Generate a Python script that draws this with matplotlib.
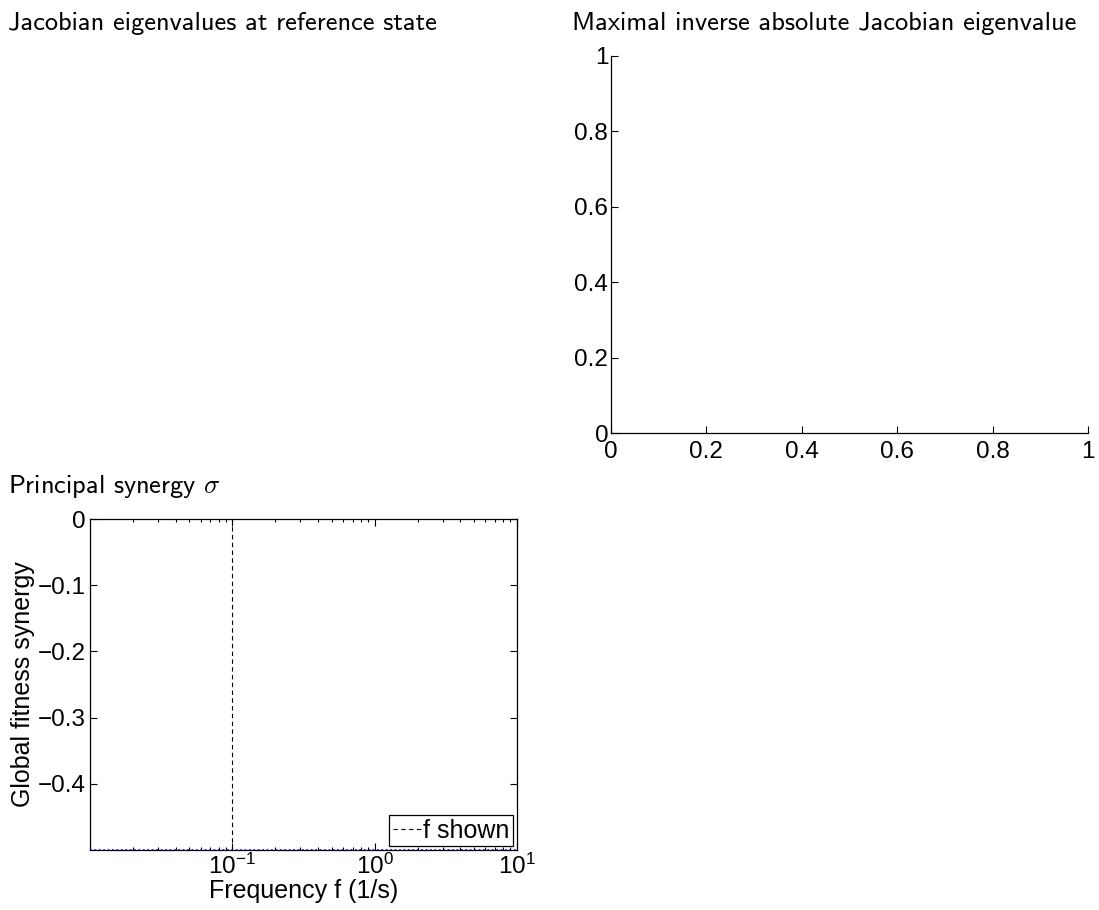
import numpy as np
import matplotlib
matplotlib.use('Agg')
import matplotlib.pyplot as plt

plt.rcParams['font.family'] = ['Liberation Sans', 'DejaVu Sans']
plt.rcParams['font.size'] = 17.5
plt.rcParams['mathtext.fontset'] = 'cm'
plt.rcParams['axes.linewidth'] = 0.9
plt.rcParams['xtick.direction'] = 'in'
plt.rcParams['ytick.direction'] = 'in'

# data
freq = [0.01, 0.1, 1.0, 10.0]
synergy = [-0.5, -0.5, -0.5, -0.5]
f_shown = 0.1
syn_ticks = [0, -0.1, -0.2, -0.3, -0.4]
syn_labels = ['0', '\u22120.1', '\u22120.2', '\u22120.3', '\u22120.4']
unit_ticks = [0, 0.2, 0.4, 0.6, 0.8, 1]
unit_labels = ['0', '0.2', '0.4', '0.6', '0.8', '1']

title_font = dict(family='cmss10', fontsize=19)

W, H = 1099, 910
fig = plt.figure(figsize=(W / 100, H / 100), dpi=100)


def box(l, t, r, b):
    return [l / W, 1 - b / H, (r - l) / W, (b - t) / H]


# top left: only a title
ax1 = fig.add_axes(box(90, 56, 517, 433))
ax1.axis('off')
ax1.set_title('Jacobian eigenvalues at reference state', loc='left',
              x=(8 - 90) / 427, pad=19, **title_font)

# top right: empty axes, box off
ax2 = fig.add_axes(box(611, 56, 1088, 433))
ax2.set_xlim(0, 1)
ax2.set_ylim(0, 1)
ax2.set_xticks(unit_ticks, unit_labels)
ax2.set_yticks(unit_ticks, unit_labels)
ax2.spines['top'].set_visible(False)
ax2.spines['right'].set_visible(False)
ax2.tick_params(length=5, width=0.8, pad=2)
ax2.tick_params(axis='x', pad=6)
ax2.set_title('Maximal inverse absolute Jacobian eigenvalue', loc='left',
              x=(572 - 611) / 477, pad=19, **title_font)

# bottom left: principal synergy vs frequency
ax3 = fig.add_axes(box(90, 519, 517, 850))
ax3.semilogx(freq, synergy, color='b', linestyle=':', linewidth=1.2, zorder=3)
ax3.axvline(f_shown, color='k', linestyle='--', linewidth=0.8, dashes=(4, 3),
            label='f shown')
ax3.set_xlim(0.01, 10)
ax3.set_ylim(-0.5, 0)
ax3.set_xticks([0.1, 1, 10])
ax3.set_yticks(syn_ticks, syn_labels)
ax3.tick_params(which='both', top=True, right=True, width=0.8, pad=3)
ax3.tick_params(which='major', length=5)
ax3.tick_params(which='minor', length=2.5)
ax3.set_xlabel('Frequency f (1/s)', labelpad=0, fontsize=18)
ax3.set_ylabel('Global fitness synergy', labelpad=2, fontsize=18)
ax3.set_title(r'Principal synergy $\sigma$', loc='left',
              x=(8 - 90) / 427, pad=19, **title_font)
leg = ax3.legend(loc='lower right', fancybox=False, framealpha=1,
                 edgecolor='k', borderpad=0.15, handlelength=1.1,
                 handletextpad=0.1, borderaxespad=0.15, fontsize=18)
leg.get_frame().set_linewidth(0.9)

fig.savefig('out.png', dpi=100)
